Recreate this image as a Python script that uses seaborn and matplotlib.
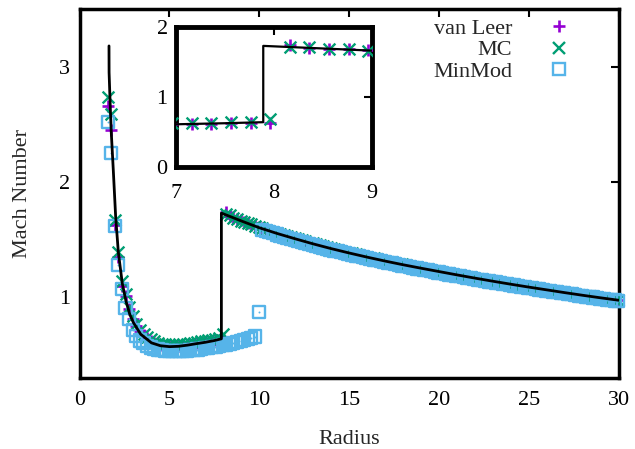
import matplotlib
matplotlib.use("Agg")
import matplotlib.pyplot as plt
import seaborn as sns
from matplotlib.lines import Line2D

# ---------------- data ----------------
radius = [1.56, 1.76, 1.96,
          2.16, 2.36, 2.56, 2.76, 2.96, 3.16, 3.36, 3.56, 3.76, 3.96,
          4.16, 4.36, 4.56, 4.76, 4.96, 5.16, 5.36, 5.56, 5.76, 5.96,
          6.16, 6.36, 6.56, 6.76, 6.96, 7.16, 7.36, 7.56, 7.76, 7.96,
          8.16, 8.36, 8.56, 8.76, 8.96, 9.16, 9.36, 9.56, 9.76, 9.96,
          10.16, 10.36, 10.56, 10.76, 10.96, 11.16, 11.36, 11.56, 11.76, 11.96,
          12.16, 12.36, 12.56, 12.76, 12.96, 13.16, 13.36, 13.56, 13.76, 13.96,
          14.16, 14.36, 14.56, 14.76, 14.96, 15.16, 15.36, 15.56, 15.76, 15.96,
          16.16, 16.36, 16.56, 16.76, 16.96, 17.16, 17.36, 17.56, 17.76, 17.96,
          18.16, 18.36, 18.56, 18.76, 18.96, 19.16, 19.36, 19.56, 19.76, 19.96,
          20.16, 20.36, 20.56, 20.76, 20.96, 21.16, 21.36, 21.56, 21.76, 21.96,
          22.16, 22.36, 22.56, 22.76, 22.96, 23.16, 23.36, 23.56, 23.76, 23.96,
          24.16, 24.36, 24.56, 24.76, 24.96, 25.16, 25.36, 25.56, 25.76, 25.96,
          26.16, 26.36, 26.56, 26.76, 26.96, 27.16, 27.36, 27.56, 27.76, 27.96,
          28.16, 28.36, 28.56, 28.76, 28.96, 29.16, 29.36, 29.56, 29.76, 29.96]

van_leer = [2.66, 2.45, 1.63,
            1.35, 1.10, 1.01, 0.90, 0.815, 0.755, 0.705, 0.67, 0.645, 0.62,
            0.605, 0.593, 0.584, 0.579, 0.576, 0.575, 0.576, 0.578, 0.582, 0.586,
            0.590, 0.595, 0.600, 0.605, 0.610, 0.615, 0.620, 0.626, 0.632, 0.635,
            1.740, 1.703, 1.691, 1.679, 1.667, 1.655, 1.643, 1.631, 1.620, 1.608,
            1.597, 1.587, 1.577, 1.567, 1.557, 1.547, 1.538, 1.529, 1.520, 1.511,
            1.502, 1.493, 1.484, 1.475, 1.467, 1.458, 1.450, 1.442, 1.433, 1.425,
            1.417, 1.410, 1.402, 1.395, 1.387, 1.380, 1.372, 1.365, 1.358, 1.351,
            1.344, 1.337, 1.330, 1.324, 1.317, 1.310, 1.304, 1.297, 1.291, 1.285,
            1.278, 1.272, 1.266, 1.260, 1.254, 1.249, 1.243, 1.237, 1.231, 1.225,
            1.220, 1.214, 1.208, 1.202, 1.196, 1.191, 1.185, 1.179, 1.174, 1.168,
            1.163, 1.157, 1.152, 1.147, 1.141, 1.136, 1.131, 1.125, 1.120, 1.115,
            1.110, 1.105, 1.100, 1.095, 1.090, 1.085, 1.080, 1.076, 1.071, 1.066,
            1.061, 1.056, 1.052, 1.047, 1.042, 1.037, 1.033, 1.028, 1.023, 1.019,
            1.014, 1.010, 1.006, 1.001, 0.997, 0.992, 0.988, 0.984, 0.980, 0.976]

mc = [2.74, 2.59, 1.67,
      1.39, 1.14, 1.03, 0.92, 0.835, 0.77, 0.72, 0.685, 0.66, 0.635,
      0.62, 0.607, 0.598, 0.592, 0.589, 0.588, 0.589, 0.591, 0.594, 0.598,
      0.602, 0.607, 0.612, 0.617, 0.622, 0.627, 0.632, 0.638, 0.645, 0.68,
      1.720, 1.710, 1.686, 1.680, 1.662, 1.657, 1.640, 1.633, 1.617, 1.610,
      1.597, 1.587, 1.577, 1.567, 1.557, 1.547, 1.538, 1.529, 1.520, 1.511,
      1.502, 1.493, 1.484, 1.475, 1.467, 1.458, 1.450, 1.442, 1.433, 1.425,
      1.417, 1.410, 1.402, 1.395, 1.387, 1.380, 1.372, 1.365, 1.358, 1.351,
      1.344, 1.337, 1.330, 1.324, 1.317, 1.310, 1.304, 1.297, 1.291, 1.285,
      1.278, 1.272, 1.266, 1.260, 1.254, 1.249, 1.243, 1.237, 1.231, 1.225,
      1.220, 1.214, 1.208, 1.202, 1.196, 1.191, 1.185, 1.179, 1.174, 1.168,
      1.163, 1.157, 1.152, 1.147, 1.141, 1.136, 1.131, 1.125, 1.120, 1.115,
      1.110, 1.105, 1.100, 1.095, 1.090, 1.085, 1.080, 1.076, 1.071, 1.066,
      1.061, 1.056, 1.052, 1.047, 1.042, 1.037, 1.033, 1.028, 1.023, 1.019,
      1.014, 1.010, 1.006, 1.001, 0.997, 0.992, 0.988, 0.984, 0.980, 0.976]

minmod = [2.52, 2.25, 1.615,
          1.28, 1.07, 0.91, 0.81, 0.72, 0.665, 0.625, 0.60, 0.58, 0.565,
          0.555, 0.547, 0.541, 0.537, 0.535, 0.534, 0.534, 0.535, 0.536, 0.538,
          0.540, 0.543, 0.547, 0.552, 0.557, 0.562, 0.567, 0.572, 0.578, 0.584,
          0.590, 0.597, 0.604, 0.612, 0.620, 0.629, 0.638, 0.648, 0.660, 0.870,
          1.585, 1.575, 1.565, 1.555, 1.545, 1.535, 1.526, 1.517, 1.508, 1.499,
          1.490, 1.481, 1.472, 1.463, 1.455, 1.446, 1.438, 1.430, 1.421, 1.413,
          1.405, 1.398, 1.390, 1.383, 1.375, 1.370, 1.362, 1.355, 1.348, 1.341,
          1.334, 1.327, 1.320, 1.314, 1.307, 1.300, 1.294, 1.287, 1.281, 1.275,
          1.268, 1.262, 1.256, 1.250, 1.244, 1.239, 1.233, 1.227, 1.221, 1.215,
          1.210, 1.204, 1.198, 1.192, 1.186, 1.181, 1.175, 1.169, 1.164, 1.158,
          1.153, 1.147, 1.142, 1.137, 1.131, 1.128, 1.123, 1.117, 1.112, 1.107,
          1.102, 1.097, 1.092, 1.087, 1.082, 1.077, 1.072, 1.068, 1.063, 1.058,
          1.053, 1.048, 1.044, 1.039, 1.034, 1.029, 1.025, 1.020, 1.015, 1.011,
          1.006, 1.002, 0.998, 0.993, 0.989, 0.984, 0.980, 0.976, 0.972, 0.968]

exact_radius = [1.64, 1.645, 1.70, 1.76, 1.88, 2.01, 2.16, 2.38, 2.58, 2.80,
                3.00, 3.40, 4.00, 4.50, 5.00, 5.50, 6.00, 6.50, 7.00, 7.50,
                7.89, 7.89, 8.5, 9.0, 10, 11, 12, 13, 14, 15, 16, 17, 18, 19,
                20, 21, 22, 23, 24, 25, 26, 27, 28, 29, 30]
exact_mach = [3.18, 2.95, 2.70, 2.45, 2.10, 1.70, 1.39, 1.12, 0.97, 0.85,
              0.78, 0.68, 0.605, 0.58, 0.572, 0.575, 0.585, 0.598, 0.61, 0.625,
              0.64, 1.73, 1.693, 1.662, 1.603, 1.553, 1.507, 1.463, 1.422, 1.384,
              1.348, 1.314, 1.282, 1.252, 1.223, 1.194, 1.166, 1.139, 1.113, 1.088,
              1.064, 1.040, 1.017, 0.995, 0.974]

series_labels = ["van Leer", "MC", "MinMod"]
main_xticks = [0, 5, 10, 15, 20, 25, 30]
main_yticks = [1, 2, 3]
inset_xticks = [7, 8, 9]
inset_yticks = [0, 1, 2]

PURPLE = "#9400D3"
GREEN = "#009E73"
BLUE = "#56B4E9"

# ---------------- style ----------------
sns.set_style("white")
plt.rcParams['font.family'] = ['Liberation Serif', 'DejaVu Serif']
plt.rcParams['mathtext.fontset'] = 'stix'
FS = 16

fig = plt.figure(figsize=(6.35, 4.49), dpi=100)
ax = fig.add_axes([0.1252, 0.1581, 0.8496, 0.8218])


def draw(a, clip=True, include_minmod=True):
    sns.scatterplot(x=radius, y=van_leer, marker='+', s=80, color=PURPLE,
                    linewidth=1.9, ax=a, legend=False, zorder=3, clip_on=clip)
    sns.scatterplot(x=radius, y=mc, marker='x', s=72, color=GREEN,
                    linewidth=1.7, ax=a, legend=False, zorder=3, clip_on=clip)
    if include_minmod:
        sns.scatterplot(x=radius, y=minmod, marker='s', s=76, facecolors='none',
                        edgecolor=BLUE, color=BLUE, linewidth=1.7, ax=a,
                        legend=False, zorder=3, clip_on=clip)
        sns.scatterplot(x=radius, y=minmod, marker='o', s=2, color=BLUE,
                        edgecolor=BLUE, linewidth=0, ax=a, legend=False,
                        zorder=3, clip_on=clip)
    sns.lineplot(x=exact_radius, y=exact_mach, sort=False, estimator=None,
                 color='black', linewidth=2.0 if include_minmod else 1.6,
                 ax=a, zorder=4)


draw(ax, clip=False)
ax.set_xlim(0, 30)
ax.set_ylim(0.3, 3.5)
ax.set_xticks(main_xticks)
ax.set_yticks(main_yticks)
ax.tick_params(direction='in', length=6, width=1.5, top=True, right=True,
               labelsize=FS, colors='black')
ax.tick_params(axis='x', pad=9)
ax.tick_params(axis='y', pad=7)
for sp in ax.spines.values():
    sp.set_linewidth(2.5)
    sp.set_color('black')
ax.set_xlabel("Radius", fontsize=FS, labelpad=15)
ax.set_ylabel("Mach Number", fontsize=FS, labelpad=19)

handles = [
    Line2D([], [], ls='none', marker='+', color=PURPLE, markersize=8.9, mew=1.9),
    Line2D([], [], ls='none', marker='x', color=GREEN, markersize=8.5, mew=1.7),
    Line2D([], [], ls='none', marker='s', mfc='none', mec=BLUE, markersize=8.5, mew=1.7),
]
ax.legend(handles, series_labels, loc='upper right', bbox_to_anchor=(0.926, 0.975),
          markerfirst=False, frameon=False, handlelength=1.8, handletextpad=1.2,
          labelspacing=0.05, borderpad=0, borderaxespad=0, fontsize=FS)

# ---------------- inset ----------------
ins = fig.add_axes([0.2772, 0.6281, 0.3087, 0.3118])
ins.set_facecolor('white')
draw(ins, clip=True, include_minmod=False)
ins.set_xlim(7, 9)
ins.set_ylim(0, 2)
ins.set_xticks(inset_xticks)
ins.set_yticks(inset_yticks)
ins.tick_params(direction='in', length=6, width=1.5, top=True, right=True,
                labelsize=FS, colors='black')
ins.tick_params(axis='x', pad=12)
ins.tick_params(axis='y', pad=6)
for sp in ins.spines.values():
    sp.set_linewidth(3.5)
    sp.set_color('black')
ins.set_xlabel("")
ins.set_ylabel("")

fig.savefig("out.png", dpi=100)
